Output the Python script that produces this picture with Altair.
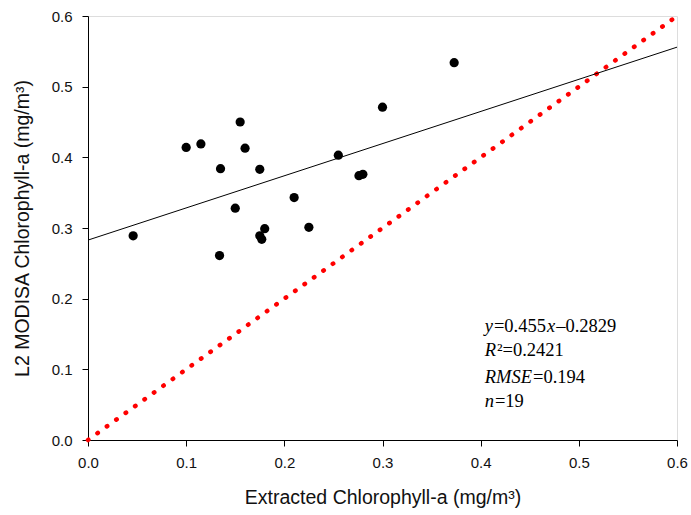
import altair as alt
import pandas as pd

extracted = [0.046, 0.100, 0.115, 0.155, 0.160, 0.135, 0.175, 0.150, 0.180, 0.175,
             0.177, 0.134, 0.210, 0.225, 0.255, 0.276, 0.280, 0.300, 0.373]
modis = [0.289, 0.414, 0.419, 0.450, 0.413, 0.384, 0.383, 0.328, 0.299, 0.289,
         0.284, 0.261, 0.343, 0.301, 0.403, 0.374, 0.376, 0.471, 0.534]

fit_x = [0.0, 0.6]
fit_y = [0.2829, 0.2829 + 0.455 * 0.6]
one_x = [0.0, 0.6]
one_y = [0.0, 0.6]

# annotation lines: segments of (text, italic)
ann_lines = [
    [("y", True), ("=0.455", False), ("x", True), ("\u20130.2829", False)],
    [("R", True), ("\u00b2=0.2421", False)],
    [("RMSE", True), ("=0.194", False)],
    [("n", True), ("=19", False)],
]
ann_x0 = 0.4041
ann_baselines = [0.1535, 0.1182, 0.0807, 0.0474]

FS = 18.5
W = 589
PX_PER_UNIT = W / 0.6
up_w = {"0": 500, "1": 500, "2": 500, "3": 500, "4": 500, "5": 500, "6": 500,
        "7": 500, "8": 500, "9": 500, ".": 250, "=": 564, "\u2013": 500, "\u00b2": 300}
it_w = {"y": 444, "x": 444, "R": 611, "M": 833, "S": 500, "E": 611, "n": 500}

rows = []
for line, yb in zip(ann_lines, ann_baselines):
    cur = 0.0
    for txt, ital in line:
        rows.append({"t": txt, "x": ann_x0 + cur / PX_PER_UNIT, "y": yb, "it": ital})
        table = it_w if ital else up_w
        cur += sum(table.get(c, 500) for c in txt) / 1000 * FS + 1.0
ann = pd.DataFrame(rows)

pts = pd.DataFrame({"x": extracted, "y": modis})
fit = pd.DataFrame({"x": fit_x, "y": fit_y})
one = pd.DataFrame({"x": one_x, "y": one_y})

xs = alt.Scale(domain=[0, 0.6], nice=False, zero=False, padding=0)
ys = alt.Scale(domain=[0, 0.6], nice=False, zero=False, padding=0)

common = dict(values=[0, 0.1, 0.2, 0.3, 0.4, 0.5, 0.6], format=".1f", grid=False,
              titleFont="Liberation Sans", titleFontSize=19.5, titleFontWeight="normal",
              titleColor="#111", labelFont="Liberation Sans", labelFontSize=15,
              labelColor="#111", tickColor="black", domainColor="black", tickSize=6,
              labelFlush=False)
xax = alt.Axis(title="Extracted Chlorophyll-a (mg/m\u00b3)", labelPadding=9,
               titlePadding=18, **common)
yax = alt.Axis(title="L2 MODISA Chlorophyll-a (mg/m\u00b3)", labelPadding=10,
               titlePadding=19, **common)

one_line = alt.Chart(one).mark_line(color="#ff0000", strokeWidth=4.5, strokeCap="round",
                                    strokeDash=[0.5, 11.1]).encode(
    x=alt.X("x:Q", scale=xs, axis=xax), y=alt.Y("y:Q", scale=ys, axis=yax))

fit_line = alt.Chart(fit).mark_line(color="black", strokeWidth=1).encode(
    x=alt.X("x:Q", scale=xs), y=alt.Y("y:Q", scale=ys))

points = alt.Chart(pts).mark_circle(color="black", opacity=1, size=85).encode(
    x=alt.X("x:Q", scale=xs), y=alt.Y("y:Q", scale=ys))

text_it = alt.Chart(ann).transform_filter("datum.it").mark_text(
    align="left", baseline="alphabetic", font="Liberation Serif", fontStyle="italic",
    fontSize=FS, color="black").encode(
    x=alt.X("x:Q", scale=xs), y=alt.Y("y:Q", scale=ys), text="t:N")

text_up = alt.Chart(ann).transform_filter("!datum.it").mark_text(
    align="left", baseline="alphabetic", font="Liberation Serif",
    fontSize=FS, color="black").encode(
    x=alt.X("x:Q", scale=xs), y=alt.Y("y:Q", scale=ys), text="t:N")

chart = alt.layer(one_line, fit_line, points, text_it, text_up).properties(
    width=W, height=424,
    autosize=alt.AutoSizeParams(type="none"),
    padding={"left": 88, "top": 16, "right": 14, "bottom": 75},
).configure_view(stroke="black", strokeWidth=1).configure(background="white")

chart.save("out.html", embed_options={"renderer": "svg", "actions": False})
